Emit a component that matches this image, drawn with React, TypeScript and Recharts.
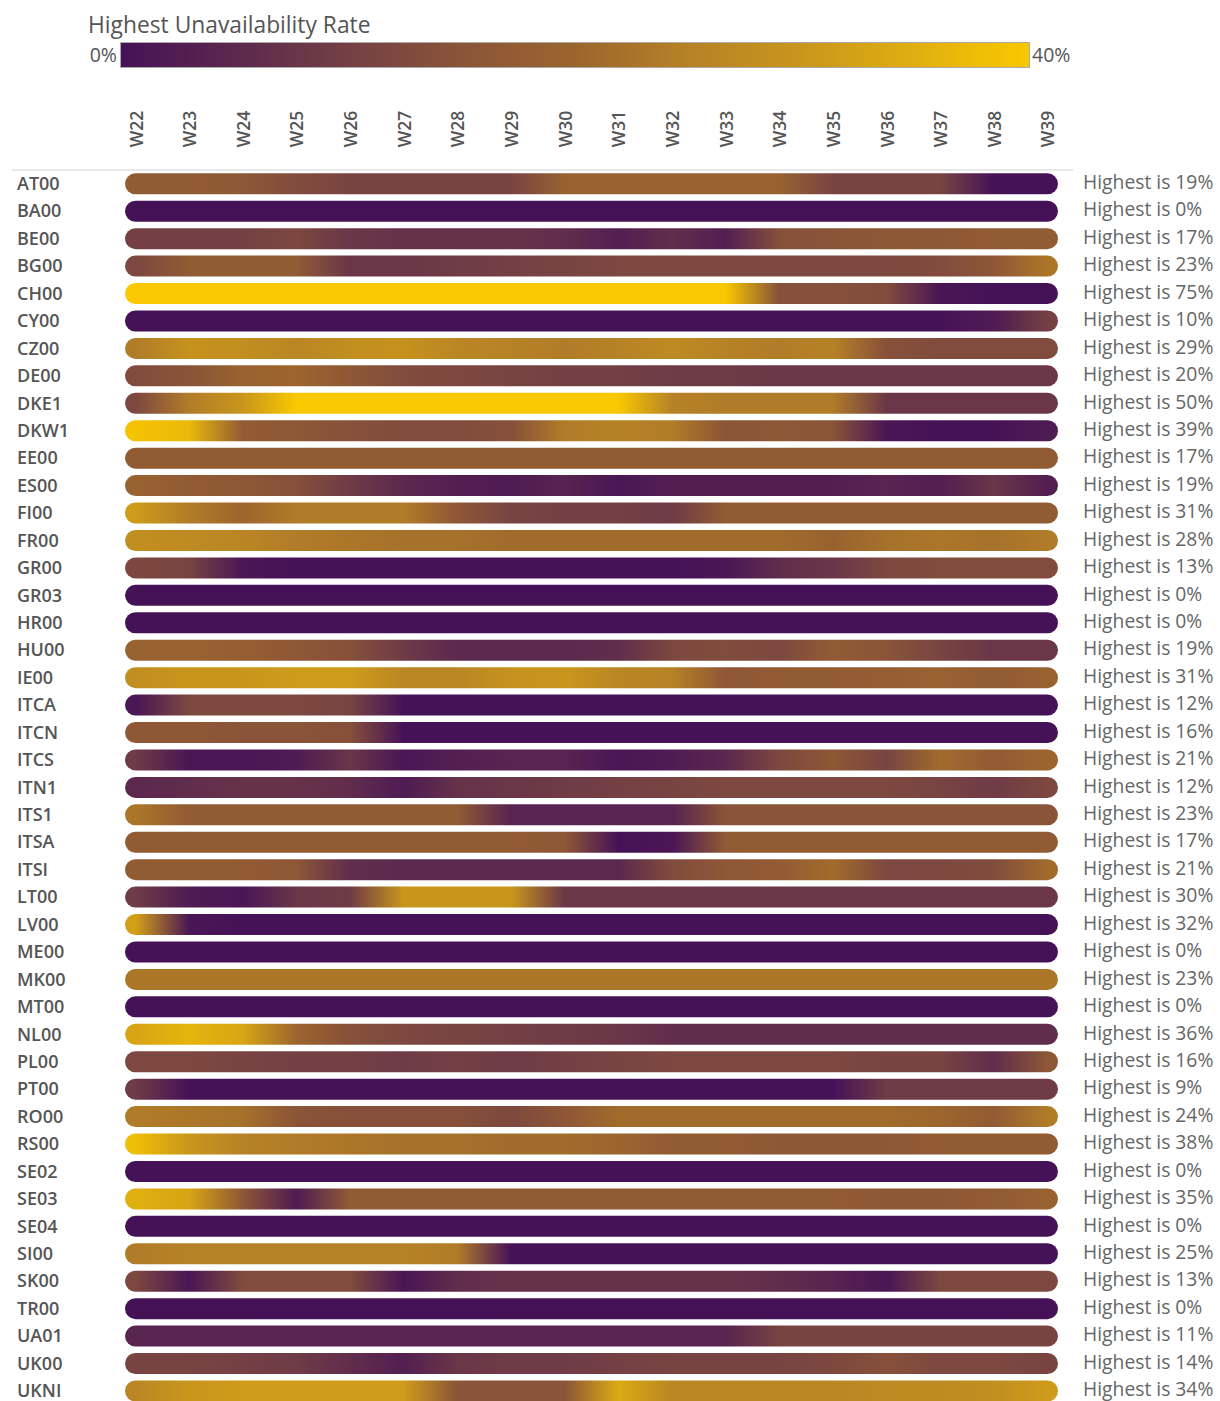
import { BarChart, Bar, XAxis, YAxis } from "recharts";

const weeks = ["W22", "W23", "W24", "W25", "W26", "W27", "W28", "W29", "W30", "W31", "W32", "W33", "W34", "W35", "W36", "W37", "W38", "W39"];

const zones = [
  "AT00", "BA00", "BE00", "BG00", "CH00", "CY00", "CZ00", "DE00", "DKE1", "DKW1",
  "EE00", "ES00", "FI00", "FR00", "GR00", "GR03", "HR00", "HU00", "IE00", "ITCA",
  "ITCN", "ITCS", "ITN1", "ITS1", "ITSA", "ITSI", "LT00", "LV00", "ME00", "MK00",
  "MT00", "NL00", "PL00", "PT00", "RO00", "RS00", "SE02", "SE03", "SE04", "SI00",
  "SK00", "TR00", "UA01", "UK00", "UKNI",
];

const highest = [
  19, 0, 17, 23, 75, 10, 29, 20, 50, 39,
  17, 19, 31, 28, 13, 0, 0, 19, 31, 12,
  16, 21, 12, 23, 17, 21, 30, 32, 0, 23,
  0, 36, 16, 9, 24, 38, 0, 35, 0, 25,
  13, 0, 11, 14, 34,
];

// weekly unavailability rate (%) per zone, W22..W39
const rates: number[][] = [
  [17, 17, 16, 13, 11, 11, 11, 11, 19, 19, 19, 19, 19, 11, 11, 11, 0, 0], // AT00
  [0, 0, 0, 0, 0, 0, 0, 0, 0, 0, 0, 0, 0, 0, 0, 0, 0, 0], // BA00
  [10, 10, 10, 12, 8, 7, 7, 7, 6, 3, 6, 3, 14, 15, 16, 16, 17, 17], // BE00
  [12, 17, 17, 17, 8, 8, 9, 10, 11, 12, 12, 12, 12, 12, 12, 13, 16, 23], // BG00
  [60, 65, 70, 75, 72, 70, 68, 66, 64, 60, 55, 50, 14, 14, 13, 1, 0, 0], // CH00
  [0, 0, 0, 0, 0, 0, 0, 0, 0, 0, 0, 0, 0, 0, 0, 0, 2, 10], // CY00
  [24, 29, 28, 26, 28, 29, 26, 25, 24, 25, 27, 25, 24, 25, 14, 13, 13, 13], // CZ00
  [13, 15, 19, 20, 16, 13, 12, 11, 10, 10, 9, 9, 8, 8, 8, 8, 8, 8], // DE00
  [12, 24, 30, 45, 50, 48, 46, 45, 44, 42, 25, 24, 24, 24, 8, 8, 8, 8], // DKE1
  [39, 37, 17, 16, 14, 13, 13, 14, 24, 25, 24, 15, 16, 15, 1, 0, 0, 2], // DKW1
  [17, 17, 17, 17, 17, 17, 17, 17, 17, 17, 17, 17, 17, 17, 17, 17, 17, 17], // EE00
  [19, 17, 16, 14, 9, 5, 3, 2, 4, 1, 3, 3, 3, 3, 4, 3, 8, 3], // ES00
  [31, 24, 20, 24, 24, 24, 16, 11, 10, 10, 9, 17, 17, 17, 17, 17, 17, 17], // FI00
  [28, 27, 26, 24, 23, 22, 22, 21, 21, 21, 21, 21, 21, 19, 22, 23, 22, 24], // FR00
  [12, 11, 1, 0, 0, 0, 0, 0, 0, 0, 0, 1, 6, 8, 12, 13, 13, 13], // GR00
  [0, 0, 0, 0, 0, 0, 0, 0, 0, 0, 0, 0, 0, 0, 0, 0, 0, 0], // GR03
  [0, 0, 0, 0, 0, 0, 0, 0, 0, 0, 0, 0, 0, 0, 0, 0, 0, 0], // HR00
  [19, 19, 18, 16, 14, 9, 5, 5, 5, 6, 12, 13, 12, 17, 15, 11, 8, 8], // HU00
  [28, 30, 30, 31, 31, 26, 26, 29, 30, 26, 25, 16, 17, 17, 18, 19, 17, 19], // IE00
  [1, 12, 12, 12, 11, 0, 0, 0, 0, 0, 0, 0, 0, 0, 0, 0, 0, 0], // ITCA
  [16, 16, 15, 15, 14, 0, 0, 0, 0, 0, 0, 0, 0, 0, 0, 0, 0, 0], // ITCN
  [9, 1, 1, 2, 8, 1, 3, 4, 4, 1, 2, 5, 12, 16, 11, 21, 17, 20], // ITCS
  [5, 6, 7, 7, 6, 2, 7, 8, 9, 10, 11, 12, 12, 12, 12, 11, 9, 12], // ITN1
  [23, 17, 17, 17, 17, 17, 17, 4, 4, 4, 4, 15, 15, 15, 15, 15, 15, 15], // ITS1
  [17, 17, 17, 17, 17, 17, 17, 17, 16, 0, 1, 17, 17, 17, 17, 17, 17, 17], // ITSA
  [17, 17, 17, 16, 6, 5, 5, 5, 5, 5, 13, 16, 17, 21, 12, 12, 13, 21], // ITSI
  [9, 2, 1, 8, 9, 30, 30, 30, 8, 8, 8, 8, 8, 8, 8, 8, 8, 8], // LT00
  [32, 1, 0, 0, 0, 0, 0, 0, 0, 0, 0, 0, 0, 0, 0, 0, 0, 0], // LV00
  [0, 0, 0, 0, 0, 0, 0, 0, 0, 0, 0, 0, 0, 0, 0, 0, 0, 0], // ME00
  [23, 23, 23, 23, 23, 23, 23, 23, 23, 23, 23, 23, 23, 23, 23, 23, 23, 23], // MK00
  [0, 0, 0, 0, 0, 0, 0, 0, 0, 0, 0, 0, 0, 0, 0, 0, 0, 0], // MT00
  [33, 36, 33, 20, 14, 12, 11, 10, 9, 8, 6, 6, 6, 6, 6, 6, 6, 6], // NL00
  [12, 12, 11, 10, 10, 9, 10, 9, 10, 11, 12, 12, 12, 12, 11, 11, 6, 16], // PL00
  [9, 0, 0, 0, 0, 0, 0, 0, 0, 0, 0, 0, 0, 0, 9, 9, 9, 9], // PT00
  [24, 23, 22, 15, 14, 14, 14, 12, 16, 21, 21, 21, 21, 21, 21, 20, 17, 24], // RO00
  [38, 30, 25, 24, 23, 22, 22, 21, 21, 20, 17, 17, 16, 16, 16, 17, 17, 17], // RS00
  [0, 0, 0, 0, 0, 0, 0, 0, 0, 0, 0, 0, 0, 0, 0, 0, 0, 0], // SE02
  [35, 33, 16, 2, 17, 17, 17, 17, 17, 17, 17, 17, 17, 17, 16, 16, 17, 19], // SE03
  [0, 0, 0, 0, 0, 0, 0, 0, 0, 0, 0, 0, 0, 0, 0, 0, 0, 0], // SE04
  [24, 25, 25, 25, 25, 25, 24, 0, 0, 0, 0, 0, 0, 0, 0, 0, 0, 0], // SI00
  [12, 1, 13, 13, 13, 1, 6, 7, 7, 7, 7, 7, 6, 4, 1, 12, 12, 12], // SK00
  [0, 0, 0, 0, 0, 0, 0, 0, 0, 0, 0, 0, 0, 0, 0, 0, 0, 0], // TR00
  [4, 4, 4, 4, 4, 4, 4, 4, 4, 4, 4, 4, 11, 11, 11, 11, 11, 11], // UA01
  [11, 11, 10, 9, 6, 3, 8, 9, 9, 10, 11, 11, 11, 12, 14, 12, 12, 11], // UK00
  [26, 30, 31, 31, 31, 31, 15, 15, 15, 34, 26, 26, 26, 26, 27, 27, 28, 31], // UKNI
];

const scaleMax = 40;

const palette: [number, string][] = [
  [0, "#461257"],
  [0.125, "#5c284e"],
  [0.25, "#744044"],
  [0.375, "#8a5438"],
  [0.5, "#9c652e"],
  [0.625, "#b68226"],
  [0.75, "#c9961c"],
  [0.875, "#e0af10"],
  [1, "#f9c800"],
];

const hex = (c: string) => [1, 3, 5].map((i) => parseInt(c.slice(i, i + 2), 16));

const colorFor = (v: number) => {
  const t = Math.min(Math.max(v / scaleMax, 0), 1);
  for (let i = 1; i < palette.length; i++) {
    const [t1, c1] = palette[i];
    if (t <= t1) {
      const [t0, c0] = palette[i - 1];
      const k = (t - t0) / (t1 - t0);
      const a = hex(c0);
      const b = hex(c1);
      const rgb = a.map((x, j) => Math.round(x + (b[j] - x) * k));
      return `rgb(${rgb.join(",")})`;
    }
  }
  return palette[palette.length - 1][1];
};

const data = zones.map((zone, i) => ({
  zone,
  span: [0, weeks.length - 1],
  rates: rates[i],
}));

const font = "'Open Sans', sans-serif";

// line with round caps, coloured week by week
const RateLine = (props: any) => {
  const { x, y, width, height, payload, index } = props;
  const r = height / 2;
  const id = `rate-${index}`;
  const vals: number[] = payload.rates;
  return (
    <g>
      <defs>
        <linearGradient id={id} gradientUnits="userSpaceOnUse" x1={x} x2={x + width} y1={0} y2={0}>
          {vals.map((v, i) => (
            <stop key={i} offset={i / (vals.length - 1)} stopColor={colorFor(v)} />
          ))}
        </linearGradient>
      </defs>
      <rect x={x - r} y={y} width={width + height} height={height} rx={r} ry={r} fill={`url(#${id})`} />
    </g>
  );
};

const WeekTick = ({ x, y, payload }: any) => (
  <text
    transform={`translate(${x},${y - 15}) rotate(-90)`}
    textAnchor="start"
    dominantBaseline="central"
    fontSize={17.5}
    fontWeight={600}
    fill="#555"
    fontFamily={font}
  >
    {weeks[payload.value]}
  </text>
);

const ZoneTick = ({ y, payload }: any) => (
  <text x={17} y={y} dy={6} textAnchor="start" fontSize={18} fontWeight={600} fill="#555" fontFamily={font}>
    {payload.value}
  </text>
);

const HighestTick = ({ x, y, payload }: any) => (
  <text x={x} y={y} dy={5} textAnchor="start" fontSize={19.3} fill="#666" fontFamily={font}>
    {`Highest is ${highest[zones.indexOf(payload.value)]}%`}
  </text>
);

const legendGradient = `linear-gradient(to right, ${palette
  .map(([t, c]) => `${c} ${t * 100}%`)
  .join(", ")})`;

export default function App() {
  return (
    <div
      style={{
        position: "absolute",
        left: 0,
        top: 0,
        width: 1220,
        height: 1401,
        overflow: "hidden",
        background: "#fff",
        fontFamily: font,
      }}
    >
      <div style={{ position: "absolute", left: 88, top: 10, fontSize: 22.8, color: "#555", lineHeight: "30px" }}>
        Highest Unavailability Rate
      </div>
      <div
        style={{
          position: "absolute",
          left: 60,
          width: 57,
          top: 42,
          height: 26,
          textAlign: "right",
          fontSize: 19.5,
          color: "#555",
          lineHeight: "26px",
        }}
      >
        0%
      </div>
      <div
        style={{
          position: "absolute",
          left: 120,
          top: 42,
          width: 908,
          height: 24,
          border: "1px solid #aaa",
          background: legendGradient,
        }}
      />
      <div style={{ position: "absolute", left: 1032, top: 42, fontSize: 19.5, color: "#555", lineHeight: "26px" }}>
        40%
      </div>
      <div style={{ position: "absolute", left: 12, top: 169, width: 1061, height: 2, background: "#e8e8e8" }} />

      <div style={{ position: "absolute", left: 0, top: 0 }}>
        <BarChart
          width={1220}
          height={1410}
          data={data}
          layout="vertical"
          barSize={21}
          margin={{ top: 110.3, right: 12, bottom: 5.1, left: 5 }}
        >
          <XAxis
            type="number"
            orientation="top"
            domain={[-0.196, weeks.length - 1 + 0.196]}
            ticks={weeks.map((_, i) => i)}
            height={60}
            axisLine={false}
            tickLine={false}
            tick={<WeekTick />}
            interval={0}
          />
          <YAxis
            yAxisId="left"
            type="category"
            dataKey="zone"
            width={120}
            axisLine={false}
            tickLine={false}
            interval={0}
            tick={<ZoneTick />}
          />
          <YAxis
            yAxisId="right"
            orientation="right"
            type="category"
            dataKey="zone"
            width={150}
            axisLine={false}
            tickLine={false}
            tickSize={0}
            tickMargin={25}
            interval={0}
            tick={<HighestTick />}
          />
          <Bar yAxisId="left" dataKey="span" shape={<RateLine />} isAnimationActive={false} />
        </BarChart>
      </div>
    </div>
  );
}
